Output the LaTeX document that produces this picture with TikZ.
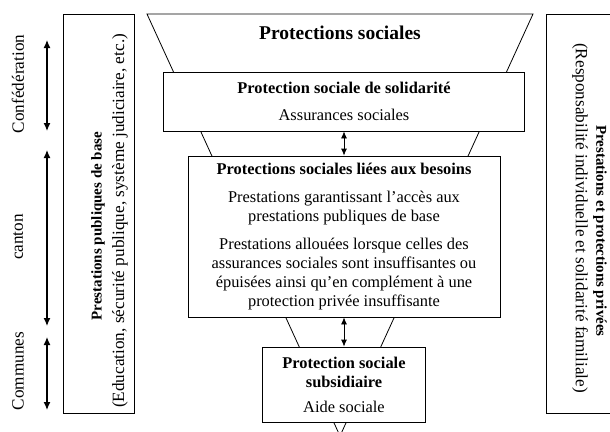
\documentclass[tikz,border=0pt]{standalone}
\usepackage{fontspec}
\setmainfont{Liberation Serif}
\usetikzlibrary{arrows.meta,positioning}

\tikzset{
  boxnode/.style={draw, fill=white, align=center, inner sep=0pt},
  body/.style={font=\fontsize{16.4}{19}\selectfont},
  sidebold/.style={font=\bfseries\fontsize{15}{18}\selectfont},
  sidereg/.style={font=\fontsize{17.2}{20}\selectfont},
  twoway/.style={{Latex[length=7pt,width=6pt]}-{Latex[length=7pt,width=6pt]}},
  levelarrow/.style={line width=1.2pt, {Latex[length=8pt,width=7pt]}-{Latex[length=8pt,width=7pt]}},
}

\begin{document}
\begin{tikzpicture}[x=1pt,y=-1pt,line width=0.8pt]
\useasboundingbox (0,0) rectangle (610,431);
\clip (0,0) rectangle (610,431);

% funnel
\coordinate (ftl) at (147,14);
\coordinate (ftr) at (533,14);
\coordinate (fapex) at (340,436);
\draw (ftl) -- (ftr) -- (fapex) -- cycle;
\node[font=\bfseries\fontsize{19.5}{22}\selectfont] (titre) at (340,33) {Protections sociales};

% boxes in the funnel
\node[boxnode, body, minimum width=361pt, minimum height=59pt] (solid) at (344,101.5)
  {\textbf{Protection sociale de solidarité}\\[8pt]Assurances sociales};
\node[boxnode, body, minimum width=312pt, minimum height=161pt] (besoins) at (344,236.5)
  {\textbf{Protections sociales liées aux besoins}\\[9pt]
   Prestations garantissant l’accès aux\\prestations publiques de base\\[9pt]
   Prestations allouées lorsque celles des\\assurances sociales sont insuffisantes ou\\
   épuisées ainsi qu’en complément à une\\protection privée insuffisante};
\node[boxnode, body, minimum width=163pt, minimum height=75pt] (subsid) at (344,384.5)
  {\textbf{Protection sociale}\\\textbf{subsidiaire}\\[6pt]Aide sociale};

\draw[twoway] (solid.south) -- (besoins.north);
\draw[twoway] (besoins.south) -- (subsid.north);

% left side
\node[draw, minimum width=71pt, minimum height=399pt, inner sep=0pt] (publiques) at (98.5,213.5) {};
\node[rotate=90, sidebold] (publtitre) at (98,226) {Prestations publiques de base};
\node[rotate=90, sidereg] (publtxt) at (120,221) {(Education, sécurité publique, système judiciaire, etc.)};

\node[rotate=90, sidereg] (confed) at (18,84) {Confédération};
\node[rotate=90, sidereg] (canton) at (18,237) {canton};
\node[rotate=90, sidereg] (communes) at (18,371) {Communes};
\coordinate (cf1) at (47,40);  \coordinate (cf2) at (47,131);
\coordinate (ct1) at (47,150); \coordinate (ct2) at (47,326);
\coordinate (cm1) at (47,337); \coordinate (cm2) at (47,410);
\draw[levelarrow] (cf1) -- (cf2);
\draw[levelarrow] (ct1) -- (ct2);
\draw[levelarrow] (cm1) -- (cm2);

% right side
\node[draw, minimum width=94pt, minimum height=399pt, inner sep=0pt] (privees) at (593,213.5) {};
\node[rotate=-90, sidebold] (privtitre) at (600,231) {Prestations et protections privées};
\node[rotate=-90, sidereg] (privtxt) at (580,218) {(Responsabilité individuelle et solidarité familiale)};
\end{tikzpicture}
\end{document}
